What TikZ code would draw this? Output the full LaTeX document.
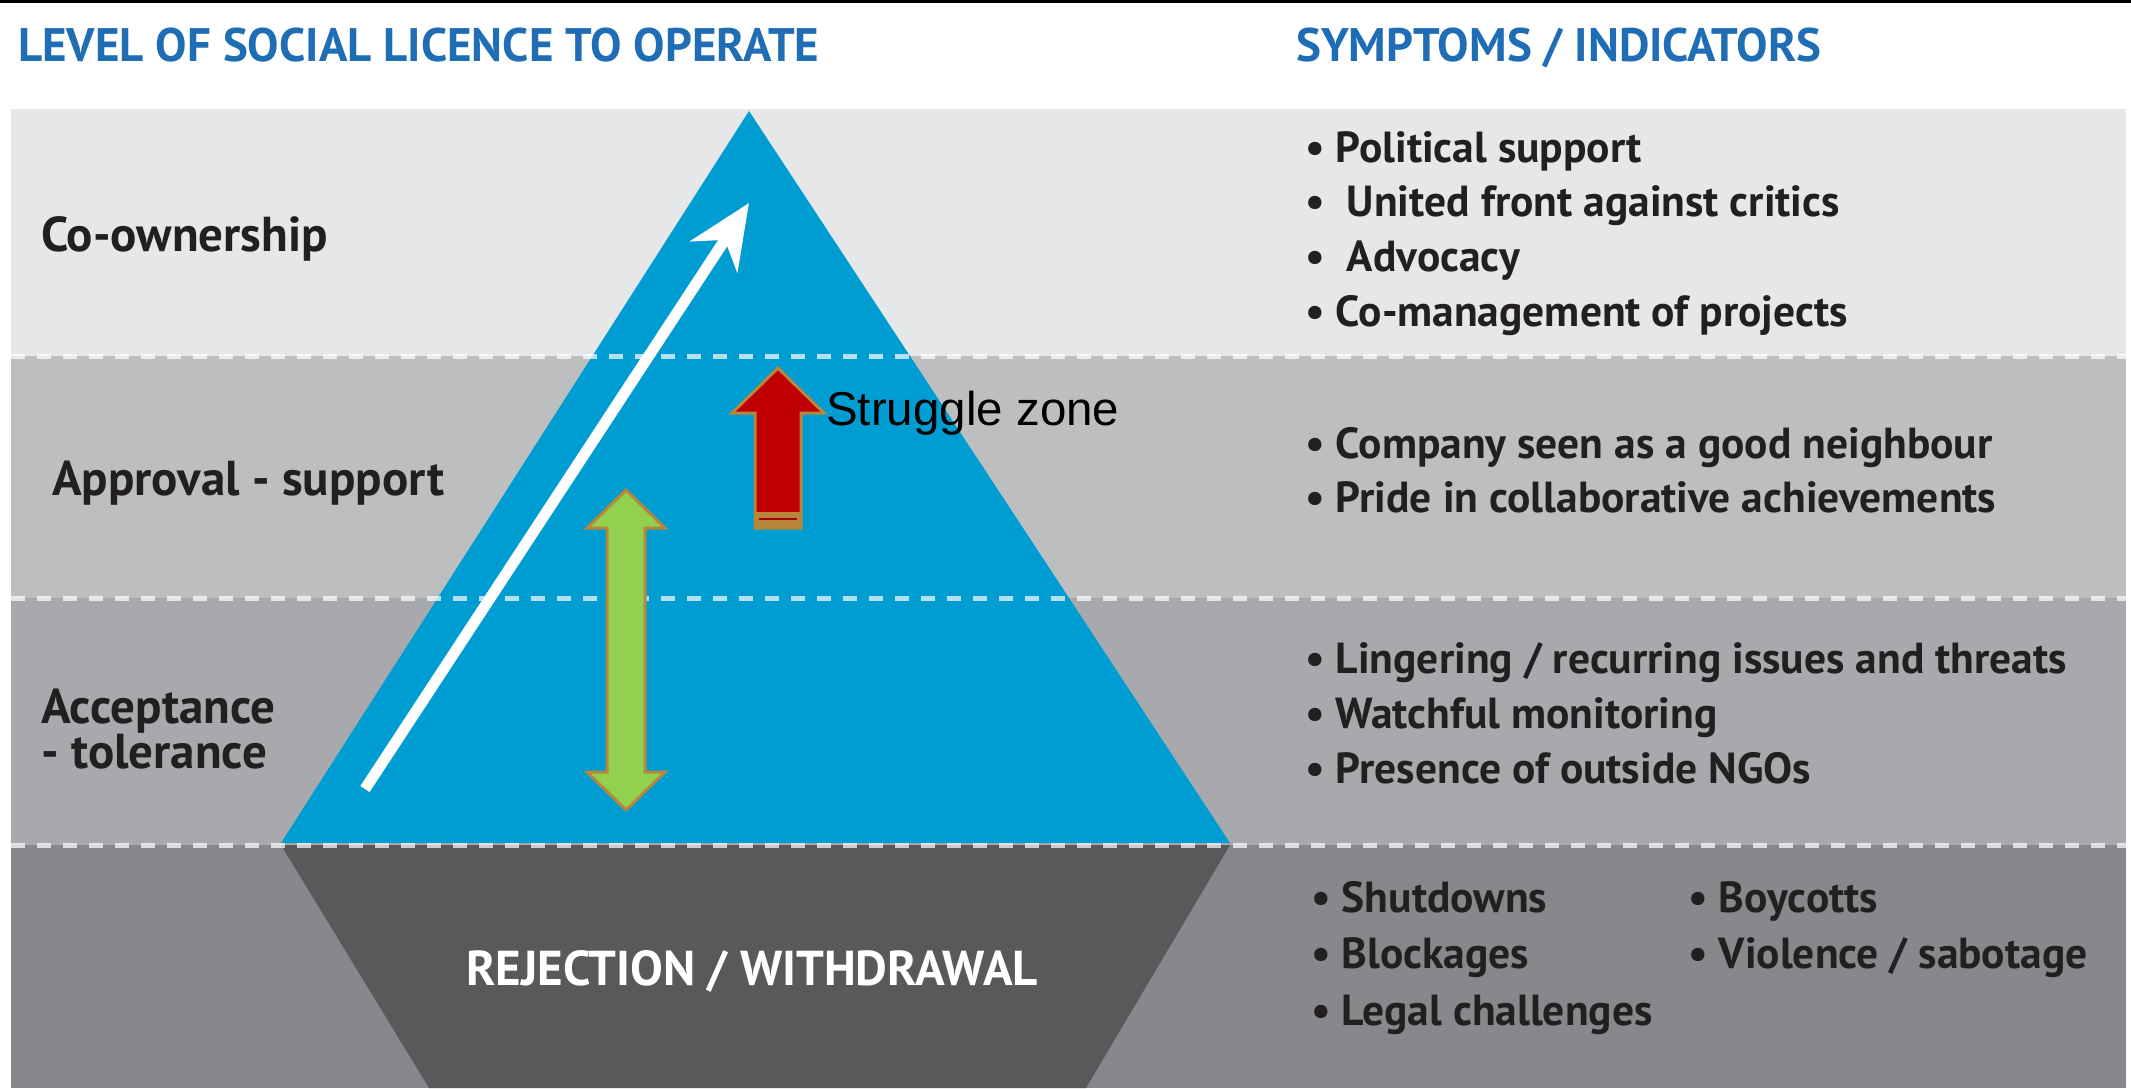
\documentclass[tikz,border=0pt]{standalone}
\usepackage{fontspec}
\setmainfont{PT Sans}
\newfontfamily\arialfont{Liberation Sans}
\usetikzlibrary{arrows.meta}

\definecolor{bandtop}{HTML}{E6E7E8}
\definecolor{bandsecond}{HTML}{BCBEC0}
\definecolor{bandthird}{HTML}{A7A9AC}
\definecolor{bandbottom}{HTML}{86888B}
\definecolor{rejectgray}{HTML}{58595B}
\definecolor{pyramidblue}{HTML}{009DD3}
\definecolor{titleblue}{HTML}{1F6DB4}
\definecolor{textdark}{HTML}{231F20}
\definecolor{arrowrim}{HTML}{B8863B}
\definecolor{swinggreen}{HTML}{92D050}
\definecolor{strugglered}{HTML}{C00000}

\begin{document}
\begin{tikzpicture}[x=1pt, y=-1pt]
	\tikzstyle{heading}=[font=\fontsize{47}{54}\selectfont\bfseries, text=titleblue, anchor=base west, inner sep=0pt]
	\tikzstyle{level}=[font=\fontsize{49}{56}\selectfont\bfseries, text=textdark, anchor=base west, inner sep=0pt]
	\tikzstyle{symptom}=[font=\fontsize{43.5}{50}\selectfont\bfseries, text=textdark, anchor=base west, inner sep=0pt]
	\tikzstyle{band line}=[white, opacity=0.7, line width=5pt, dash pattern=on 14pt off 12pt]
	\tikzstyle{block arrow}=[draw=arrowrim, line width=3pt, line join=miter]
	
	\useasboundingbox (0,0) rectangle (2131,1088);
	\fill[black] (0,0) rectangle (2131,3);
	
	% Background bands
	\fill[bandtop] (11,109) rectangle (2126,356);
	\fill[bandsecond] (11,356) rectangle (2126,598);
	\fill[bandthird] (11,598) rectangle (2126,845);
	\fill[bandbottom] (11,845) rectangle (2126,1088);
	
	% Pyramid and the rejection base under it
	\fill[pyramidblue] (749,111) -- (1230,843) -- (281,843) -- cycle;
	\fill[rejectgray] (281,845) -- (1230,845) -- (1086,1088) -- (429,1088) -- cycle;
	
	% Dashed lines between the levels
	\draw[band line] (11,356) -- (2126,356);
	\draw[band line] (11,598) -- (2126,598);
	\draw[band line] (11,845) -- (2126,845);
	
	% Column headings
	\node[heading] (levelhead) at (18,61) {LEVEL OF SOCIAL LICENCE TO OPERATE};
	\node[heading] (symptomhead) at (1296,61) {SYMPTOMS / INDICATORS};
	
	% Levels
	\node[level] (coown) at (41,251) {Co-ownership};
	\node[level] (approval) at (52,495) {Approval - support};
	\node[level] (accept) at (41,723) {Acceptance};
	\node[level] (toler) at (41,768) {- tolerance};
	\node[level, text=white] (reject) at (466,985) {REJECTION / WITHDRAWAL};
	
	% Rising white arrow
	\coordinate (rise start) at (365,789);
	\coordinate (rise end) at (749,203);
	\draw[white, line width=11pt, -{Stealth[length=64pt, width=56pt, inset=20pt]}] (rise start) -- (rise end);
	
	% Green double arrow
	\draw[block arrow, fill=swinggreen] (626,490) -- (665,528) -- (645,528) -- (645,772) -- (665,772) -- (626,810)
		-- (587,772) -- (607,772) -- (607,528) -- (587,528) -- cycle;
	
	% Red arrow and its label
	\draw[block arrow, fill=strugglered] (778,368) -- (824,413) -- (801,413) -- (801,528) -- (755,528) -- (755,413)
		-- (732,413) -- cycle;
	\fill[arrowrim] (755,512) rectangle (801,528);
	\draw[strugglered!85!black, line width=2pt] (759,519) -- (797,519);
	\node[anchor=base west, inner sep=0pt, font=\arialfont\fontsize{47.5}{54}\selectfont] (struggle) at (826,425) {Struggle zone};
	
	% Symptoms / indicators
	\node[symptom] (sym1a) at (1305,162) {• Political support};
	\node[symptom] (sym1b) at (1305,216) {•\ \ United front against critics};
	\node[symptom] (sym1c) at (1305,271) {•\ \ Advocacy};
	\node[symptom] (sym1d) at (1305,326) {• Co-management of projects};
	
	\node[symptom] (sym2a) at (1305,458) {• Company seen as a good neighbour};
	\node[symptom] (sym2b) at (1305,512) {• Pride in collaborative achievements};
	
	\node[symptom] (sym3a) at (1305,673) {• Lingering / recurring issues and threats};
	\node[symptom] (sym3b) at (1305,728) {• Watchful monitoring};
	\node[symptom] (sym3c) at (1305,783) {• Presence of outside NGOs};
	
	\node[symptom] (sym4a) at (1311,912) {• Shutdowns};
	\node[symptom] (sym4b) at (1311,968) {• Blockages};
	\node[symptom] (sym4c) at (1311,1025) {• Legal challenges};
	\node[symptom] (sym4d) at (1688,912) {• Boycotts};
	\node[symptom] (sym4e) at (1688,968) {• Violence / sabotage};
\end{tikzpicture}
\end{document}
